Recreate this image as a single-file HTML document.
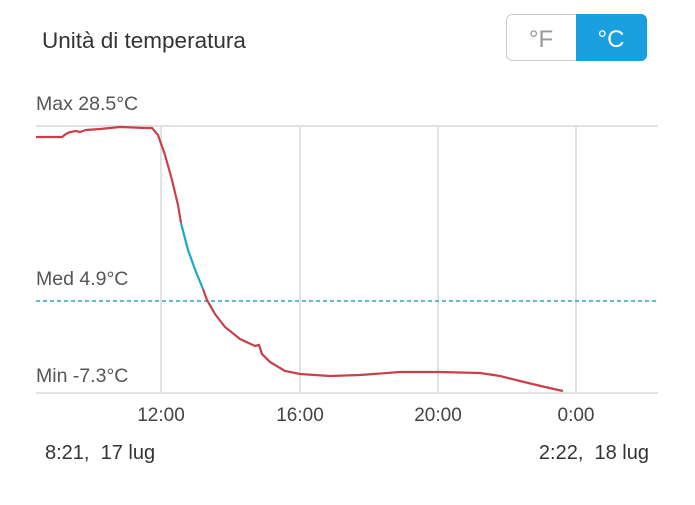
<!DOCTYPE html>
<html><head><meta charset="utf-8"><style>
body{margin:0;width:695px;height:500px;background:#fff;overflow:hidden;font-family:"Liberation Sans",sans-serif}
</style></head><body>
<svg width="695" height="500" xmlns="http://www.w3.org/2000/svg" font-family="Liberation Sans, sans-serif">
<text x="42" y="48" font-size="22.5" fill="#333">Unità di temperatura</text>
<rect x="506.5" y="14.5" width="140" height="46" rx="6" fill="#fff" stroke="#ccc"/>
<path d="M576 14 H641 a6 6 0 0 1 6 6 V55 a6 6 0 0 1 -6 6 H576 Z" fill="#1a9fe0"/>
<text x="541" y="47" font-size="24" fill="#999" text-anchor="middle">°F</text>
<text x="611" y="47" font-size="24" fill="#fff" text-anchor="middle">°C</text>
<g stroke="#e2e2e2" stroke-width="2">
<line x1="36" y1="126" x2="658" y2="126"/>
<line x1="36" y1="393" x2="658" y2="393"/>
<line x1="161" y1="126" x2="161" y2="393"/>
<line x1="300" y1="126" x2="300" y2="393"/>
<line x1="438" y1="126" x2="438" y2="393"/>
<line x1="576" y1="126" x2="576" y2="393"/>
</g>
<line x1="36" y1="301" x2="658" y2="301" stroke="#2aa6c8" stroke-width="1.5" stroke-dasharray="4,3"/>
<g font-size="19.5" fill="#555">
<text x="36" y="110">Max 28.5°C</text>
<text x="36" y="285">Med 4.9°C</text>
<text x="36" y="382">Min -7.3°C</text>
</g>
<polyline fill="none" stroke="#c8404a" stroke-width="2.2" points="36,137 62,137 66,134 70,132 76,131 80,132 86,130 100,129 120,127 145,128 152,128 158,135 165,155 172,180 178,205 181,223"/>
<polyline fill="none" stroke="#1aa8c8" stroke-width="2.2" points="181,223 188,250 196,272 203,289"/>
<polyline fill="none" stroke="#c8404a" stroke-width="2.2" points="203,289 207,300 215,314 225,327 240,339 255,346 259,345 262,354 270,362 285,371 300,374 330,376 360,375 400,372 440,372 480,373 500,376 520,381 545,387 563,391"/>
<g font-size="19" fill="#444" text-anchor="middle">
<text x="161" y="421">12:00</text>
<text x="300" y="421">16:00</text>
<text x="438" y="421">20:00</text>
<text x="576" y="421">0:00</text>
</g>
<text x="45" y="459" font-size="20" fill="#333">8:21,&#160; 17 lug</text>
<text x="649" y="459" font-size="20" fill="#333" text-anchor="end">2:22,&#160; 18 lug</text>
</svg>
</body></html>
